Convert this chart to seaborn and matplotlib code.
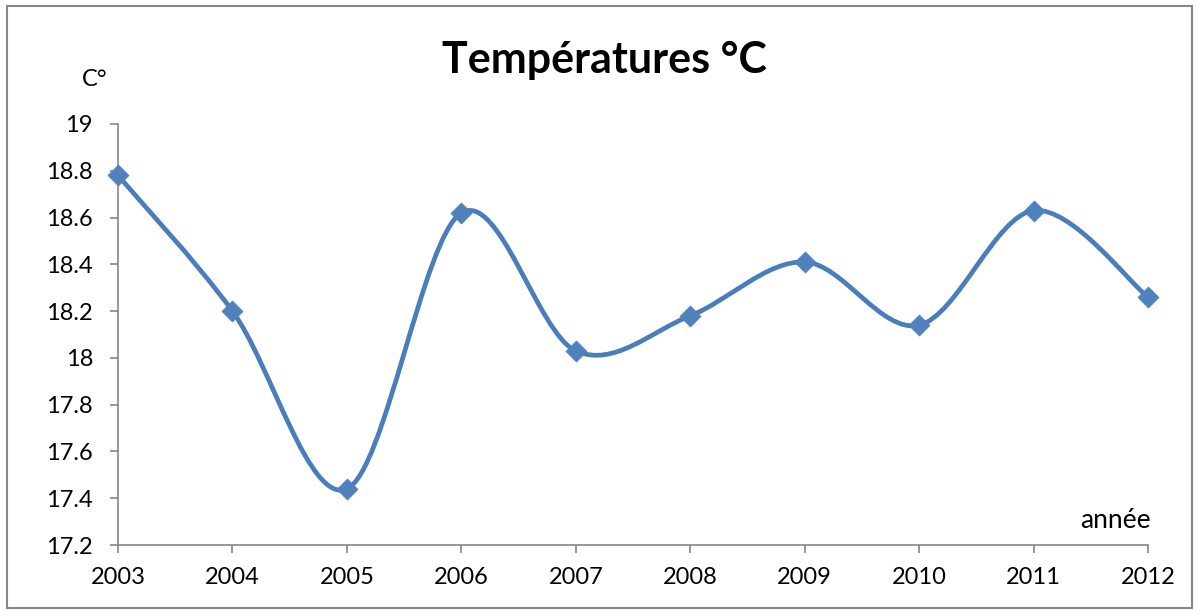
import numpy as np
import pandas as pd
import matplotlib
matplotlib.use("Agg")
import matplotlib.pyplot as plt
from matplotlib.path import Path
from matplotlib.patches import PathPatch, Rectangle
import seaborn as sns

years = [2003, 2004, 2005, 2006, 2007, 2008, 2009, 2010, 2011, 2012]
temps = [18.78, 18.20, 17.44, 18.62, 18.03, 18.18, 18.41, 18.14, 18.63, 18.26]
y_ticks = [17.2, 17.4, 17.6, 17.8, 18, 18.2, 18.4, 18.6, 18.8, 19]
y_labels = ["17.2", "17.4", "17.6", "17.8", "18", "18.2", "18.4", "18.6", "18.8", "19"]

sns.set_theme(style="white")
plt.rcParams['font.family'] = ['Lato', 'DejaVu Sans']

df = pd.DataFrame({"year": years, "temp": temps})
blue = "#4a7ebb"
axis_grey = "#868686"

fig = plt.figure(figsize=(11.97, 6.11), dpi=100)
ax = fig.add_axes([118 / 1197, 1 - 545 / 611, (1148 - 118) / 1197, (545 - 124) / 611])

# smoothed line like a spreadsheet chart: cubic bezier segments between points
pts = np.column_stack([years, temps]).astype(float)
verts = [pts[0]]
codes = [Path.MOVETO]
n = len(pts)
for i in range(n - 1):
    p_prev = pts[i - 1] if i > 0 else pts[i]
    p_next2 = pts[i + 2] if i + 2 < n else pts[i + 1]
    c1 = pts[i] + (pts[i + 1] - p_prev) / 6
    c2 = pts[i + 1] - (p_next2 - pts[i]) / 6
    verts += [c1, c2, pts[i + 1]]
    codes += [Path.CURVE4] * 3
ax.add_patch(PathPatch(Path(verts, codes), fill=False, edgecolor=blue,
                       linewidth=3.4, capstyle="round", joinstyle="round",
                       clip_on=False, zorder=2))

sns.scatterplot(data=df, x="year", y="temp", marker="D", s=115, color="#4f81bd",
                edgecolor="#4f81bd", linewidth=0.5, ax=ax, zorder=3, clip_on=False)

ax.set_xlim(2003, 2012)
ax.set_ylim(17.2, 19)
ax.set_xticks(years)
ax.set_xticklabels([str(y) for y in years])
ax.set_yticks(y_ticks)
ax.set_yticklabels(y_labels)
ax.set_xlabel("")
ax.set_ylabel("")
for side in ["top", "right"]:
    ax.spines[side].set_visible(False)
for side in ["left", "bottom"]:
    ax.spines[side].set_color(axis_grey)
    ax.spines[side].set_linewidth(1.2)
ax.tick_params(axis="both", which="major", direction="out", length=6, width=1.2,
               color=axis_grey, labelsize=17, labelcolor="black",
               left=True, bottom=True)
ax.tick_params(axis="x", pad=10)
ax.tick_params(axis="y", pad=12)

fig.text(604 / 1197, 1 - 60 / 611, "Températures °C", ha="center", va="center",
         fontsize=31, fontweight="bold", color="black")
fig.text(95 / 1197, 1 - 80 / 611, "C°", ha="center", va="center", fontsize=17,
         color="black")
fig.text(1115 / 1197, 1 - 521 / 611, "année", ha="center", va="center",
         fontsize=19, color="black")

fig.patches.append(Rectangle((7 / 1197, 3 / 611), 1185 / 1197, 602 / 611,
                             transform=fig.transFigure, fill=False,
                             edgecolor="#888888", linewidth=1.5))

fig.savefig("out.png", dpi=100)
